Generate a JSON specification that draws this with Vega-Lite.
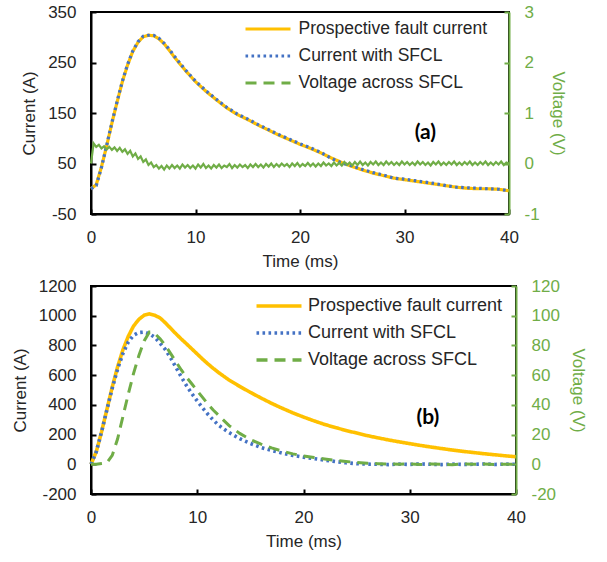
{
  "$schema": "https://vega.github.io/schema/vega-lite/v6.json",
  "padding": {"left": 10, "top": 2, "right": 5, "bottom": 5},
  "spacing": 6,
  "datasets": {
    "aCur": [
      {"t":0,"s":"Prospective fault current","I":0},{"t":0.5,"s":"Prospective fault current","I":8},{"t":1,"s":"Prospective fault current","I":43},{"t":1.5,"s":"Prospective fault current","I":85},{"t":2,"s":"Prospective fault current","I":130},{"t":2.5,"s":"Prospective fault current","I":172},{"t":3,"s":"Prospective fault current","I":212},{"t":3.5,"s":"Prospective fault current","I":245},{"t":4,"s":"Prospective fault current","I":272},{"t":4.5,"s":"Prospective fault current","I":290},{"t":5,"s":"Prospective fault current","I":301},{"t":5.5,"s":"Prospective fault current","I":304},{"t":6,"s":"Prospective fault current","I":303},{"t":6.5,"s":"Prospective fault current","I":297},{"t":7,"s":"Prospective fault current","I":287},{"t":7.5,"s":"Prospective fault current","I":274},{"t":8,"s":"Prospective fault current","I":260},{"t":9,"s":"Prospective fault current","I":235},{"t":10,"s":"Prospective fault current","I":212},{"t":11,"s":"Prospective fault current","I":193},{"t":12,"s":"Prospective fault current","I":176},{"t":13,"s":"Prospective fault current","I":160},{"t":14,"s":"Prospective fault current","I":147},{"t":15,"s":"Prospective fault current","I":137},{"t":16,"s":"Prospective fault current","I":126},{"t":17,"s":"Prospective fault current","I":116},{"t":18,"s":"Prospective fault current","I":106},{"t":19,"s":"Prospective fault current","I":97},{"t":20,"s":"Prospective fault current","I":88},{"t":21,"s":"Prospective fault current","I":80},{"t":22,"s":"Prospective fault current","I":71},{"t":23,"s":"Prospective fault current","I":61},{"t":24,"s":"Prospective fault current","I":52},{"t":25,"s":"Prospective fault current","I":44},{"t":26,"s":"Prospective fault current","I":37},{"t":27,"s":"Prospective fault current","I":31},{"t":28,"s":"Prospective fault current","I":26},{"t":29,"s":"Prospective fault current","I":21},{"t":30,"s":"Prospective fault current","I":18},{"t":31,"s":"Prospective fault current","I":15},{"t":32,"s":"Prospective fault current","I":12},{"t":33,"s":"Prospective fault current","I":9},{"t":34,"s":"Prospective fault current","I":6},{"t":35,"s":"Prospective fault current","I":3},{"t":36,"s":"Prospective fault current","I":1},{"t":37,"s":"Prospective fault current","I":0},{"t":38,"s":"Prospective fault current","I":0},{"t":39,"s":"Prospective fault current","I":-1},{"t":40,"s":"Prospective fault current","I":-4},
      {"t":0,"s":"Current with SFCL","I":0},{"t":0.5,"s":"Current with SFCL","I":6},{"t":1,"s":"Current with SFCL","I":42},{"t":1.5,"s":"Current with SFCL","I":86},{"t":2,"s":"Current with SFCL","I":131},{"t":2.5,"s":"Current with SFCL","I":173},{"t":3,"s":"Current with SFCL","I":213},{"t":3.5,"s":"Current with SFCL","I":246},{"t":4,"s":"Current with SFCL","I":273},{"t":4.5,"s":"Current with SFCL","I":291},{"t":5,"s":"Current with SFCL","I":302},{"t":5.5,"s":"Current with SFCL","I":304},{"t":6,"s":"Current with SFCL","I":304},{"t":6.5,"s":"Current with SFCL","I":298},{"t":7,"s":"Current with SFCL","I":288},{"t":7.5,"s":"Current with SFCL","I":276},{"t":8,"s":"Current with SFCL","I":262},{"t":9,"s":"Current with SFCL","I":236},{"t":10,"s":"Current with SFCL","I":213},{"t":11,"s":"Current with SFCL","I":194},{"t":12,"s":"Current with SFCL","I":177},{"t":13,"s":"Current with SFCL","I":161},{"t":14,"s":"Current with SFCL","I":148},{"t":15,"s":"Current with SFCL","I":138},{"t":16,"s":"Current with SFCL","I":127},{"t":17,"s":"Current with SFCL","I":117},{"t":18,"s":"Current with SFCL","I":107},{"t":19,"s":"Current with SFCL","I":98},{"t":20,"s":"Current with SFCL","I":89},{"t":21,"s":"Current with SFCL","I":81},{"t":22,"s":"Current with SFCL","I":72},{"t":23,"s":"Current with SFCL","I":60},{"t":24,"s":"Current with SFCL","I":51},{"t":25,"s":"Current with SFCL","I":45},{"t":26,"s":"Current with SFCL","I":38},{"t":27,"s":"Current with SFCL","I":32},{"t":28,"s":"Current with SFCL","I":27},{"t":29,"s":"Current with SFCL","I":21},{"t":30,"s":"Current with SFCL","I":19},{"t":31,"s":"Current with SFCL","I":16},{"t":32,"s":"Current with SFCL","I":13},{"t":33,"s":"Current with SFCL","I":10},{"t":34,"s":"Current with SFCL","I":6},{"t":35,"s":"Current with SFCL","I":3},{"t":36,"s":"Current with SFCL","I":2},{"t":37,"s":"Current with SFCL","I":1},{"t":38,"s":"Current with SFCL","I":0},{"t":39,"s":"Current with SFCL","I":-1},{"t":40,"s":"Current with SFCL","I":-4}
    ],
    "aVolt": [
      {"t":0,"s":"Voltage across SFCL","V":0.0},{"t":0.25,"s":"Voltage across SFCL","V":0.40},{"t":0.5,"s":"Voltage across SFCL","V":0.33},{"t":0.75,"s":"Voltage across SFCL","V":0.37},{"t":1,"s":"Voltage across SFCL","V":0.30},{"t":1.25,"s":"Voltage across SFCL","V":0.34},{"t":1.5,"s":"Voltage across SFCL","V":0.28},{"t":1.75,"s":"Voltage across SFCL","V":0.33},{"t":2,"s":"Voltage across SFCL","V":0.27},{"t":2.25,"s":"Voltage across SFCL","V":0.32},{"t":2.5,"s":"Voltage across SFCL","V":0.25},{"t":2.75,"s":"Voltage across SFCL","V":0.31},{"t":3,"s":"Voltage across SFCL","V":0.23},{"t":3.25,"s":"Voltage across SFCL","V":0.28},{"t":3.5,"s":"Voltage across SFCL","V":0.19},{"t":3.75,"s":"Voltage across SFCL","V":0.25},{"t":4,"s":"Voltage across SFCL","V":0.14},{"t":4.25,"s":"Voltage across SFCL","V":0.20},{"t":4.5,"s":"Voltage across SFCL","V":0.09},{"t":4.75,"s":"Voltage across SFCL","V":0.14},{"t":5,"s":"Voltage across SFCL","V":0.03},{"t":5.25,"s":"Voltage across SFCL","V":0.08},{"t":5.5,"s":"Voltage across SFCL","V":-0.03},{"t":5.75,"s":"Voltage across SFCL","V":0.02},{"t":6,"s":"Voltage across SFCL","V":-0.07},{"t":6.25,"s":"Voltage across SFCL","V":-0.03},{"t":6.5,"s":"Voltage across SFCL","V":-0.10},{"t":6.75,"s":"Voltage across SFCL","V":-0.05},{"t":7,"s":"Voltage across SFCL","V":-0.12},{"t":7.25,"s":"Voltage across SFCL","V":-0.04},{"t":7.5,"s":"Voltage across SFCL","V":-0.10},{"t":7.75,"s":"Voltage across SFCL","V":-0.03},{"t":8,"s":"Voltage across SFCL","V":-0.09},{"t":8.25,"s":"Voltage across SFCL","V":-0.04},{"t":8.5,"s":"Voltage across SFCL","V":-0.10},{"t":8.75,"s":"Voltage across SFCL","V":-0.02},{"t":9,"s":"Voltage across SFCL","V":-0.08},{"t":9.25,"s":"Voltage across SFCL","V":-0.03},{"t":9.5,"s":"Voltage across SFCL","V":-0.09},{"t":9.75,"s":"Voltage across SFCL","V":-0.04},{"t":10,"s":"Voltage across SFCL","V":-0.10},{"t":10.25,"s":"Voltage across SFCL","V":-0.02},{"t":10.5,"s":"Voltage across SFCL","V":-0.08},{"t":10.75,"s":"Voltage across SFCL","V":-0.01},{"t":11,"s":"Voltage across SFCL","V":-0.09},{"t":11.25,"s":"Voltage across SFCL","V":-0.04},{"t":11.5,"s":"Voltage across SFCL","V":-0.10},{"t":11.75,"s":"Voltage across SFCL","V":-0.03},{"t":12,"s":"Voltage across SFCL","V":-0.08},{"t":12.25,"s":"Voltage across SFCL","V":-0.02},{"t":12.5,"s":"Voltage across SFCL","V":-0.09},{"t":12.75,"s":"Voltage across SFCL","V":-0.04},{"t":13,"s":"Voltage across SFCL","V":-0.07},{"t":13.25,"s":"Voltage across SFCL","V":-0.01},{"t":13.5,"s":"Voltage across SFCL","V":-0.09},{"t":13.75,"s":"Voltage across SFCL","V":-0.03},{"t":14,"s":"Voltage across SFCL","V":-0.08},{"t":14.25,"s":"Voltage across SFCL","V":-0.02},{"t":14.5,"s":"Voltage across SFCL","V":-0.07},{"t":14.75,"s":"Voltage across SFCL","V":-0.03},{"t":15,"s":"Voltage across SFCL","V":-0.09},{"t":15.25,"s":"Voltage across SFCL","V":-0.02},{"t":15.5,"s":"Voltage across SFCL","V":-0.07},{"t":15.75,"s":"Voltage across SFCL","V":-0.01},{"t":16,"s":"Voltage across SFCL","V":-0.07},{"t":16.25,"s":"Voltage across SFCL","V":-0.02},{"t":16.5,"s":"Voltage across SFCL","V":-0.08},{"t":16.75,"s":"Voltage across SFCL","V":-0.01},{"t":17,"s":"Voltage across SFCL","V":-0.06},{"t":17.25,"s":"Voltage across SFCL","V":0.0},{"t":17.5,"s":"Voltage across SFCL","V":-0.07},{"t":17.75,"s":"Voltage across SFCL","V":-0.01},{"t":18,"s":"Voltage across SFCL","V":-0.06},{"t":18.25,"s":"Voltage across SFCL","V":0.0},{"t":18.5,"s":"Voltage across SFCL","V":-0.05},{"t":18.75,"s":"Voltage across SFCL","V":-0.01},{"t":19,"s":"Voltage across SFCL","V":-0.07},{"t":19.25,"s":"Voltage across SFCL","V":0.0},{"t":19.5,"s":"Voltage across SFCL","V":-0.05},{"t":19.75,"s":"Voltage across SFCL","V":0.01},{"t":20,"s":"Voltage across SFCL","V":-0.06},{"t":20.25,"s":"Voltage across SFCL","V":-0.01},{"t":20.5,"s":"Voltage across SFCL","V":-0.05},{"t":20.75,"s":"Voltage across SFCL","V":0.01},{"t":21,"s":"Voltage across SFCL","V":-0.05},{"t":21.25,"s":"Voltage across SFCL","V":0.0},{"t":21.5,"s":"Voltage across SFCL","V":-0.06},{"t":21.75,"s":"Voltage across SFCL","V":0.0},{"t":22,"s":"Voltage across SFCL","V":-0.05},{"t":22.25,"s":"Voltage across SFCL","V":0.02},{"t":22.5,"s":"Voltage across SFCL","V":-0.04},{"t":22.75,"s":"Voltage across SFCL","V":0.0},{"t":23,"s":"Voltage across SFCL","V":-0.05},{"t":23.25,"s":"Voltage across SFCL","V":0.02},{"t":23.5,"s":"Voltage across SFCL","V":-0.04},{"t":23.75,"s":"Voltage across SFCL","V":0.01},{"t":24,"s":"Voltage across SFCL","V":-0.04},{"t":24.25,"s":"Voltage across SFCL","V":0.03},{"t":24.5,"s":"Voltage across SFCL","V":-0.03},{"t":24.75,"s":"Voltage across SFCL","V":0.02},{"t":25,"s":"Voltage across SFCL","V":-0.04},{"t":25.25,"s":"Voltage across SFCL","V":0.03},{"t":25.5,"s":"Voltage across SFCL","V":-0.03},{"t":25.75,"s":"Voltage across SFCL","V":0.04},{"t":26,"s":"Voltage across SFCL","V":-0.03},{"t":26.25,"s":"Voltage across SFCL","V":0.02},{"t":26.5,"s":"Voltage across SFCL","V":-0.04},{"t":26.75,"s":"Voltage across SFCL","V":0.03},{"t":27,"s":"Voltage across SFCL","V":-0.02},{"t":27.25,"s":"Voltage across SFCL","V":0.04},{"t":27.5,"s":"Voltage across SFCL","V":-0.03},{"t":27.75,"s":"Voltage across SFCL","V":0.02},{"t":28,"s":"Voltage across SFCL","V":-0.03},{"t":28.25,"s":"Voltage across SFCL","V":0.04},{"t":28.5,"s":"Voltage across SFCL","V":-0.02},{"t":28.75,"s":"Voltage across SFCL","V":0.03},{"t":29,"s":"Voltage across SFCL","V":-0.03},{"t":29.25,"s":"Voltage across SFCL","V":0.02},{"t":29.5,"s":"Voltage across SFCL","V":-0.03},{"t":29.75,"s":"Voltage across SFCL","V":0.04},{"t":30,"s":"Voltage across SFCL","V":-0.02},{"t":30.25,"s":"Voltage across SFCL","V":0.03},{"t":30.5,"s":"Voltage across SFCL","V":-0.03},{"t":30.75,"s":"Voltage across SFCL","V":0.02},{"t":31,"s":"Voltage across SFCL","V":-0.03},{"t":31.25,"s":"Voltage across SFCL","V":0.04},{"t":31.5,"s":"Voltage across SFCL","V":-0.02},{"t":31.75,"s":"Voltage across SFCL","V":0.03},{"t":32,"s":"Voltage across SFCL","V":-0.03},{"t":32.25,"s":"Voltage across SFCL","V":0.02},{"t":32.5,"s":"Voltage across SFCL","V":-0.04},{"t":32.75,"s":"Voltage across SFCL","V":0.03},{"t":33,"s":"Voltage across SFCL","V":-0.02},{"t":33.25,"s":"Voltage across SFCL","V":0.04},{"t":33.5,"s":"Voltage across SFCL","V":-0.03},{"t":33.75,"s":"Voltage across SFCL","V":0.02},{"t":34,"s":"Voltage across SFCL","V":-0.03},{"t":34.25,"s":"Voltage across SFCL","V":0.03},{"t":34.5,"s":"Voltage across SFCL","V":-0.02},{"t":34.75,"s":"Voltage across SFCL","V":0.04},{"t":35,"s":"Voltage across SFCL","V":-0.03},{"t":35.25,"s":"Voltage across SFCL","V":0.02},{"t":35.5,"s":"Voltage across SFCL","V":-0.03},{"t":35.75,"s":"Voltage across SFCL","V":0.03},{"t":36,"s":"Voltage across SFCL","V":-0.02},{"t":36.25,"s":"Voltage across SFCL","V":0.04},{"t":36.5,"s":"Voltage across SFCL","V":-0.03},{"t":36.75,"s":"Voltage across SFCL","V":0.02},{"t":37,"s":"Voltage across SFCL","V":-0.03},{"t":37.25,"s":"Voltage across SFCL","V":0.03},{"t":37.5,"s":"Voltage across SFCL","V":-0.02},{"t":37.75,"s":"Voltage across SFCL","V":0.04},{"t":38,"s":"Voltage across SFCL","V":-0.03},{"t":38.25,"s":"Voltage across SFCL","V":0.02},{"t":38.5,"s":"Voltage across SFCL","V":-0.03},{"t":38.75,"s":"Voltage across SFCL","V":0.03},{"t":39,"s":"Voltage across SFCL","V":-0.02},{"t":39.25,"s":"Voltage across SFCL","V":0.04},{"t":39.5,"s":"Voltage across SFCL","V":-0.03},{"t":39.75,"s":"Voltage across SFCL","V":0.02},{"t":40,"s":"Voltage across SFCL","V":0.0}
    ],
    "bCur": [
      {"t":0,"s":"Prospective fault current","I":0},{"t":0.5,"s":"Prospective fault current","I":85},{"t":1,"s":"Prospective fault current","I":220},{"t":1.5,"s":"Prospective fault current","I":370},{"t":2,"s":"Prospective fault current","I":520},{"t":2.5,"s":"Prospective fault current","I":655},{"t":3,"s":"Prospective fault current","I":770},{"t":3.5,"s":"Prospective fault current","I":860},{"t":4,"s":"Prospective fault current","I":930},{"t":4.5,"s":"Prospective fault current","I":975},{"t":5,"s":"Prospective fault current","I":1003},{"t":5.5,"s":"Prospective fault current","I":1012},{"t":6,"s":"Prospective fault current","I":1003},{"t":6.5,"s":"Prospective fault current","I":985},{"t":7,"s":"Prospective fault current","I":952},{"t":7.5,"s":"Prospective fault current","I":915},{"t":8,"s":"Prospective fault current","I":878},{"t":8.5,"s":"Prospective fault current","I":843},{"t":9,"s":"Prospective fault current","I":810},{"t":9.5,"s":"Prospective fault current","I":776},{"t":10,"s":"Prospective fault current","I":742},{"t":10.5,"s":"Prospective fault current","I":708},{"t":11,"s":"Prospective fault current","I":676},{"t":11.5,"s":"Prospective fault current","I":646},{"t":12,"s":"Prospective fault current","I":618},{"t":12.5,"s":"Prospective fault current","I":592},{"t":13,"s":"Prospective fault current","I":567},{"t":14,"s":"Prospective fault current","I":524},{"t":15,"s":"Prospective fault current","I":484},{"t":16,"s":"Prospective fault current","I":446},{"t":17,"s":"Prospective fault current","I":410},{"t":18,"s":"Prospective fault current","I":377},{"t":19,"s":"Prospective fault current","I":346},{"t":20,"s":"Prospective fault current","I":318},{"t":21,"s":"Prospective fault current","I":292},{"t":22,"s":"Prospective fault current","I":268},{"t":23,"s":"Prospective fault current","I":247},{"t":24,"s":"Prospective fault current","I":228},{"t":25,"s":"Prospective fault current","I":210},{"t":26,"s":"Prospective fault current","I":193},{"t":27,"s":"Prospective fault current","I":178},{"t":28,"s":"Prospective fault current","I":164},{"t":29,"s":"Prospective fault current","I":151},{"t":30,"s":"Prospective fault current","I":139},{"t":31,"s":"Prospective fault current","I":127},{"t":32,"s":"Prospective fault current","I":116},{"t":33,"s":"Prospective fault current","I":106},{"t":34,"s":"Prospective fault current","I":96},{"t":35,"s":"Prospective fault current","I":87},{"t":36,"s":"Prospective fault current","I":79},{"t":37,"s":"Prospective fault current","I":71},{"t":38,"s":"Prospective fault current","I":64},{"t":39,"s":"Prospective fault current","I":57},{"t":40,"s":"Prospective fault current","I":51},
      {"t":0,"s":"Current with SFCL","I":0},{"t":0.5,"s":"Current with SFCL","I":85},{"t":1,"s":"Current with SFCL","I":220},{"t":1.5,"s":"Current with SFCL","I":368},{"t":2,"s":"Current with SFCL","I":512},{"t":2.5,"s":"Current with SFCL","I":640},{"t":3,"s":"Current with SFCL","I":745},{"t":3.5,"s":"Current with SFCL","I":822},{"t":4,"s":"Current with SFCL","I":868},{"t":4.5,"s":"Current with SFCL","I":887},{"t":5,"s":"Current with SFCL","I":890},{"t":5.5,"s":"Current with SFCL","I":878},{"t":6,"s":"Current with SFCL","I":855},{"t":6.5,"s":"Current with SFCL","I":815},{"t":7,"s":"Current with SFCL","I":772},{"t":7.5,"s":"Current with SFCL","I":715},{"t":8,"s":"Current with SFCL","I":652},{"t":8.5,"s":"Current with SFCL","I":588},{"t":9,"s":"Current with SFCL","I":528},{"t":9.5,"s":"Current with SFCL","I":475},{"t":10,"s":"Current with SFCL","I":426},{"t":10.5,"s":"Current with SFCL","I":380},{"t":11,"s":"Current with SFCL","I":337},{"t":11.5,"s":"Current with SFCL","I":298},{"t":12,"s":"Current with SFCL","I":264},{"t":12.5,"s":"Current with SFCL","I":237},{"t":13,"s":"Current with SFCL","I":213},{"t":14,"s":"Current with SFCL","I":172},{"t":15,"s":"Current with SFCL","I":140},{"t":16,"s":"Current with SFCL","I":113},{"t":17,"s":"Current with SFCL","I":93},{"t":18,"s":"Current with SFCL","I":75},{"t":19,"s":"Current with SFCL","I":60},{"t":20,"s":"Current with SFCL","I":48},{"t":21,"s":"Current with SFCL","I":38},{"t":22,"s":"Current with SFCL","I":28},{"t":23,"s":"Current with SFCL","I":19},{"t":24,"s":"Current with SFCL","I":10},{"t":25,"s":"Current with SFCL","I":4},{"t":26,"s":"Current with SFCL","I":1},{"t":27,"s":"Current with SFCL","I":0},{"t":28,"s":"Current with SFCL","I":-2},{"t":29,"s":"Current with SFCL","I":1},{"t":30,"s":"Current with SFCL","I":-1},{"t":31,"s":"Current with SFCL","I":2},{"t":32,"s":"Current with SFCL","I":0},{"t":33,"s":"Current with SFCL","I":-2},{"t":34,"s":"Current with SFCL","I":1},{"t":35,"s":"Current with SFCL","I":-1},{"t":36,"s":"Current with SFCL","I":0},{"t":37,"s":"Current with SFCL","I":2},{"t":38,"s":"Current with SFCL","I":-1},{"t":39,"s":"Current with SFCL","I":1},{"t":40,"s":"Current with SFCL","I":0}
    ],
    "bVolt": [
      {"t":0,"s":"Voltage across SFCL","V":0},{"t":0.5,"s":"Voltage across SFCL","V":0},{"t":1,"s":"Voltage across SFCL","V":0.5},{"t":1.5,"s":"Voltage across SFCL","V":1},{"t":2,"s":"Voltage across SFCL","V":6},{"t":2.5,"s":"Voltage across SFCL","V":17},{"t":3,"s":"Voltage across SFCL","V":32},{"t":3.5,"s":"Voltage across SFCL","V":47},{"t":4,"s":"Voltage across SFCL","V":61},{"t":4.5,"s":"Voltage across SFCL","V":73},{"t":5,"s":"Voltage across SFCL","V":83},{"t":5.5,"s":"Voltage across SFCL","V":89},{"t":6,"s":"Voltage across SFCL","V":88},{"t":6.5,"s":"Voltage across SFCL","V":84.5},{"t":7,"s":"Voltage across SFCL","V":80},{"t":7.5,"s":"Voltage across SFCL","V":74.5},{"t":8,"s":"Voltage across SFCL","V":69},{"t":8.5,"s":"Voltage across SFCL","V":63.5},{"t":9,"s":"Voltage across SFCL","V":58.5},{"t":9.5,"s":"Voltage across SFCL","V":54},{"t":10,"s":"Voltage across SFCL","V":49.5},{"t":10.5,"s":"Voltage across SFCL","V":45},{"t":11,"s":"Voltage across SFCL","V":40.5},{"t":11.5,"s":"Voltage across SFCL","V":36.5},{"t":12,"s":"Voltage across SFCL","V":33},{"t":13,"s":"Voltage across SFCL","V":26},{"t":14,"s":"Voltage across SFCL","V":20.8},{"t":15,"s":"Voltage across SFCL","V":16.7},{"t":16,"s":"Voltage across SFCL","V":13.5},{"t":17,"s":"Voltage across SFCL","V":11},{"t":18,"s":"Voltage across SFCL","V":8.8},{"t":19,"s":"Voltage across SFCL","V":7},{"t":20,"s":"Voltage across SFCL","V":5.6},{"t":21,"s":"Voltage across SFCL","V":4.6},{"t":22,"s":"Voltage across SFCL","V":3.6},{"t":23,"s":"Voltage across SFCL","V":2.7},{"t":24,"s":"Voltage across SFCL","V":1.9},{"t":25,"s":"Voltage across SFCL","V":1.2},{"t":26,"s":"Voltage across SFCL","V":0.7},{"t":27,"s":"Voltage across SFCL","V":0.4},{"t":28,"s":"Voltage across SFCL","V":0.2},{"t":29,"s":"Voltage across SFCL","V":0},{"t":30,"s":"Voltage across SFCL","V":0.3},{"t":31,"s":"Voltage across SFCL","V":-0.2},{"t":32,"s":"Voltage across SFCL","V":0.2},{"t":33,"s":"Voltage across SFCL","V":0},{"t":34,"s":"Voltage across SFCL","V":-0.3},{"t":35,"s":"Voltage across SFCL","V":0.2},{"t":36,"s":"Voltage across SFCL","V":0},{"t":37,"s":"Voltage across SFCL","V":0.2},{"t":38,"s":"Voltage across SFCL","V":-0.2},{"t":39,"s":"Voltage across SFCL","V":0.1},{"t":40,"s":"Voltage across SFCL","V":0}
    ]
  },
  "vconcat": [
    {
      "width": 418,
      "height": 202,
      "layer": [
        {
          "layer": [
            {
              "data": {"name": "aCur"},
              "mark": {"type": "line", "strokeWidth": 3.2},
              "encoding": {
                "x": {"field": "t", "type": "quantitative", "scale": {"domain": [0, 40], "nice": false}, "axis": {"values": [0, 10, 20, 30, 40], "title": "Time (ms)"}},
                "y": {"field": "I", "type": "quantitative", "scale": {"domain": [-50, 350], "nice": false, "zero": false}, "axis": {"orient": "left", "values": [-50, 50, 150, 250, 350], "title": "Current (A)", "labelOverlap": false, "labelExpr": "datum.value < 0 ? '-' + abs(datum.value) : '' + datum.value"}},
                "color": {"field": "s", "type": "nominal", "sort": null, "scale": {"domain": ["Prospective fault current", "Current with SFCL", "Voltage across SFCL"], "range": ["#FFC000", "#4472C4", "#70AD47"]},
                  "legend": {"title": null, "orient": "none", "legendX": 166, "legendY": 6, "symbolType": "M-2.5,0H2.5", "symbolSize": 324, "symbolStrokeWidth": 3.2, "labelFontSize": 17.5, "labelFont": "Liberation Sans", "labelColor": "#262626", "labelOffset": 19.5, "labelLimit": 400, "rowPadding": 7, "padding": 0}},
                "strokeDash": {"field": "s", "type": "nominal", "sort": null, "scale": {"domain": ["Prospective fault current", "Current with SFCL", "Voltage across SFCL"], "range": [[1, 0], [2.6, 3.4], [11, 7]]},
                  "legend": {"title": null, "orient": "none", "legendX": 166, "legendY": 6, "symbolType": "M-2.5,0H2.5", "symbolSize": 324, "symbolStrokeWidth": 3.2, "labelFontSize": 17.5, "labelFont": "Liberation Sans", "labelColor": "#262626", "labelOffset": 19.5, "labelLimit": 400, "rowPadding": 7, "padding": 0}}
              }
            },
            {
              "data": {"values": [{"t": 32, "I": 110, "lab": "(a)"}]},
              "mark": {"type": "text", "font": "Lato", "fontSize": 21, "fontWeight": "bold", "color": "#000000", "align": "center", "baseline": "middle"},
              "encoding": {
                "x": {"field": "t", "type": "quantitative"},
                "y": {"field": "I", "type": "quantitative", "axis": {"orient": "left", "values": [-50, 50, 150, 250, 350], "title": "Current (A)", "labelOverlap": false, "labelExpr": "datum.value < 0 ? '-' + abs(datum.value) : '' + datum.value"}},
                "text": {"field": "lab"}
              }
            }
          ]
        },
        {
          "data": {"name": "aVolt"},
          "mark": {"type": "line", "strokeWidth": 2.2},
          "encoding": {
            "x": {"field": "t", "type": "quantitative"},
            "y": {"field": "V", "type": "quantitative", "scale": {"domain": [-1, 3], "nice": false, "zero": false}, "axis": {"orient": "right", "values": [-1, 0, 1, 2, 3], "title": "Voltage (V)", "labelOverlap": false, "labelColor": "#70AD47", "titleColor": "#70AD47", "domainColor": "#70AD47", "tickColor": "#70AD47", "zindex": 1, "labelExpr": "datum.value < 0 ? '-' + abs(datum.value) : '' + datum.value"}},
            "color": {"field": "s", "type": "nominal", "sort": null}
          }
        }
      ],
      "resolve": {"scale": {"y": "independent"}}
    },
    {
      "width": 425,
      "height": 208,
      "layer": [
        {
          "layer": [
            {
              "data": {"name": "bCur"},
              "mark": {"type": "line", "strokeWidth": 3.6},
              "encoding": {
                "x": {"field": "t", "type": "quantitative", "scale": {"domain": [0, 40], "nice": false}, "axis": {"values": [0, 10, 20, 30, 40], "title": "Time (ms)"}},
                "y": {"field": "I", "type": "quantitative", "scale": {"domain": [-200, 1200], "nice": false, "zero": false}, "axis": {"orient": "left", "values": [-200, 0, 200, 400, 600, 800, 1000, 1200], "title": "Current (A)", "labelOverlap": false, "labelExpr": "datum.value < 0 ? '-' + abs(datum.value) : '' + datum.value"}},
                "color": {"field": "s", "type": "nominal", "sort": null, "scale": {"domain": ["Prospective fault current", "Current with SFCL", "Voltage across SFCL"], "range": ["#FFC000", "#4472C4", "#70AD47"]},
                  "legend": {"title": null, "orient": "none", "legendX": 177, "legendY": 9, "symbolType": "M-2.5,0H2.5", "symbolSize": 324, "symbolStrokeWidth": 3.6, "labelFontSize": 18, "labelFont": "Liberation Sans", "labelColor": "#262626", "labelOffset": 18, "labelLimit": 400, "rowPadding": 7, "padding": 0}},
                "strokeDash": {"field": "s", "type": "nominal", "sort": null, "scale": {"domain": ["Prospective fault current", "Current with SFCL", "Voltage across SFCL"], "range": [[1, 0], [2.6, 3.4], [11, 7]]},
                  "legend": {"title": null, "orient": "none", "legendX": 177, "legendY": 9, "symbolType": "M-2.5,0H2.5", "symbolSize": 324, "symbolStrokeWidth": 3.6, "labelFontSize": 18, "labelFont": "Liberation Sans", "labelColor": "#262626", "labelOffset": 18, "labelLimit": 400, "rowPadding": 7, "padding": 0}}
              }
            },
            {
              "data": {"values": [{"t": 31.7, "I": 311, "lab": "(b)"}]},
              "mark": {"type": "text", "font": "Lato", "fontSize": 21, "fontWeight": "bold", "color": "#000000", "align": "center", "baseline": "middle"},
              "encoding": {
                "x": {"field": "t", "type": "quantitative"},
                "y": {"field": "I", "type": "quantitative", "axis": {"orient": "left", "values": [-200, 0, 200, 400, 600, 800, 1000, 1200], "title": "Current (A)", "labelOverlap": false, "labelExpr": "datum.value < 0 ? '-' + abs(datum.value) : '' + datum.value"}},
                "text": {"field": "lab"}
              }
            }
          ]
        },
        {
          "data": {"name": "bVolt"},
          "mark": {"type": "line", "strokeWidth": 3},
          "encoding": {
            "x": {"field": "t", "type": "quantitative"},
            "y": {"field": "V", "type": "quantitative", "scale": {"domain": [-20, 120], "nice": false, "zero": false}, "axis": {"orient": "right", "values": [-20, 0, 20, 40, 60, 80, 100, 120], "title": "Voltage (V)", "labelOverlap": false, "labelColor": "#70AD47", "titleColor": "#70AD47", "domainColor": "#70AD47", "tickColor": "#70AD47", "zindex": 1, "labelExpr": "datum.value < 0 ? '-' + abs(datum.value) : '' + datum.value"}},
            "color": {"field": "s", "type": "nominal", "sort": null},
            "strokeDash": {"field": "s", "type": "nominal", "sort": null}
          }
        }
      ],
      "resolve": {"scale": {"y": "independent"}}
    }
  ],
  "resolve": {"legend": {"color": "independent", "strokeDash": "independent"}},
  "config": {
    "font": "Liberation Sans",
    "view": {"stroke": "#000000", "strokeWidth": 2},
    "axis": {"grid": false, "labelFont": "Liberation Sans", "titleFont": "Liberation Sans", "labelFontSize": 17, "titleFontSize": 17, "titleFontWeight": "normal", "labelColor": "#262626", "titleColor": "#262626", "domainColor": "#000000", "domainWidth": 2, "tickColor": "#000000", "tickWidth": 2, "tickSize": -5, "labelPadding": 20, "titlePadding": 9, "labelFlush": false, "labelOverlap": false},
    "axisX": {"labelPadding": 20, "titlePadding": 8}
  }
}
